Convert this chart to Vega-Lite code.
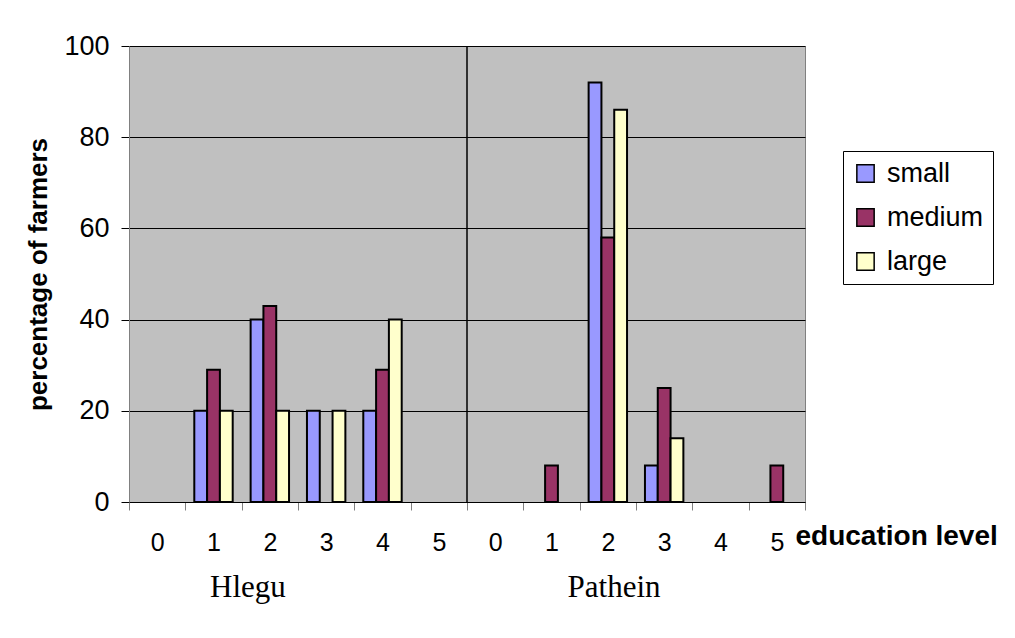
{
  "$schema": "https://vega.github.io/schema/vega-lite/v6.json",
  "width": 676,
  "height": 456,
  "autosize": "none",
  "padding": {"left": 129, "top": 46, "right": 210, "bottom": 136},
  "background": "white",
  "config": {
    "view": {"fill": "#C0C0C0", "stroke": "#808080", "strokeWidth": 1},
    "font": "Liberation Sans"
  },
  "datasets": {
    "bars": [
      {"category": "Hlegu 0", "site": "Hlegu", "level": 0, "size": "small", "percent": 0},
      {"category": "Hlegu 0", "site": "Hlegu", "level": 0, "size": "medium", "percent": 0},
      {"category": "Hlegu 0", "site": "Hlegu", "level": 0, "size": "large", "percent": 0},
      {"category": "Hlegu 1", "site": "Hlegu", "level": 1, "size": "small", "percent": 20},
      {"category": "Hlegu 1", "site": "Hlegu", "level": 1, "size": "medium", "percent": 29},
      {"category": "Hlegu 1", "site": "Hlegu", "level": 1, "size": "large", "percent": 20},
      {"category": "Hlegu 2", "site": "Hlegu", "level": 2, "size": "small", "percent": 40},
      {"category": "Hlegu 2", "site": "Hlegu", "level": 2, "size": "medium", "percent": 43},
      {"category": "Hlegu 2", "site": "Hlegu", "level": 2, "size": "large", "percent": 20},
      {"category": "Hlegu 3", "site": "Hlegu", "level": 3, "size": "small", "percent": 20},
      {"category": "Hlegu 3", "site": "Hlegu", "level": 3, "size": "medium", "percent": 0},
      {"category": "Hlegu 3", "site": "Hlegu", "level": 3, "size": "large", "percent": 20},
      {"category": "Hlegu 4", "site": "Hlegu", "level": 4, "size": "small", "percent": 20},
      {"category": "Hlegu 4", "site": "Hlegu", "level": 4, "size": "medium", "percent": 29},
      {"category": "Hlegu 4", "site": "Hlegu", "level": 4, "size": "large", "percent": 40},
      {"category": "Hlegu 5", "site": "Hlegu", "level": 5, "size": "small", "percent": 0},
      {"category": "Hlegu 5", "site": "Hlegu", "level": 5, "size": "medium", "percent": 0},
      {"category": "Hlegu 5", "site": "Hlegu", "level": 5, "size": "large", "percent": 0},
      {"category": "Pathein 0", "site": "Pathein", "level": 0, "size": "small", "percent": 0},
      {"category": "Pathein 0", "site": "Pathein", "level": 0, "size": "medium", "percent": 0},
      {"category": "Pathein 0", "site": "Pathein", "level": 0, "size": "large", "percent": 0},
      {"category": "Pathein 1", "site": "Pathein", "level": 1, "size": "small", "percent": 0},
      {"category": "Pathein 1", "site": "Pathein", "level": 1, "size": "medium", "percent": 8},
      {"category": "Pathein 1", "site": "Pathein", "level": 1, "size": "large", "percent": 0},
      {"category": "Pathein 2", "site": "Pathein", "level": 2, "size": "small", "percent": 92},
      {"category": "Pathein 2", "site": "Pathein", "level": 2, "size": "medium", "percent": 58},
      {"category": "Pathein 2", "site": "Pathein", "level": 2, "size": "large", "percent": 86},
      {"category": "Pathein 3", "site": "Pathein", "level": 3, "size": "small", "percent": 8},
      {"category": "Pathein 3", "site": "Pathein", "level": 3, "size": "medium", "percent": 25},
      {"category": "Pathein 3", "site": "Pathein", "level": 3, "size": "large", "percent": 14},
      {"category": "Pathein 4", "site": "Pathein", "level": 4, "size": "small", "percent": 0},
      {"category": "Pathein 4", "site": "Pathein", "level": 4, "size": "medium", "percent": 0},
      {"category": "Pathein 4", "site": "Pathein", "level": 4, "size": "large", "percent": 0},
      {"category": "Pathein 5", "site": "Pathein", "level": 5, "size": "small", "percent": 0},
      {"category": "Pathein 5", "site": "Pathein", "level": 5, "size": "medium", "percent": 8},
      {"category": "Pathein 5", "site": "Pathein", "level": 5, "size": "large", "percent": 0}
    ],
    "sites": [
      {"site": "Hlegu", "category": "Hlegu 2"},
      {"site": "Pathein", "category": "Pathein 2"}
    ],
    "divider": [
      {"category": "Pathein 0"}
    ]
  },
  "layer": [
    {
      "data": {"name": "bars"},
      "transform": [{"filter": "datum.percent > 0"}],
      "mark": {"type": "bar", "stroke": "black", "strokeWidth": 2},
      "encoding": {
        "x": {
          "field": "category",
          "type": "nominal",
          "sort": null,
          "scale": {
            "domain": ["Hlegu 0", "Hlegu 1", "Hlegu 2", "Hlegu 3", "Hlegu 4", "Hlegu 5", "Pathein 0", "Pathein 1", "Pathein 2", "Pathein 3", "Pathein 4", "Pathein 5"],
            "paddingInner": 0,
            "paddingOuter": 0
          },
          "axis": {
            "labelExpr": "split(datum.label, ' ')[1]",
            "labelAngle": 0,
            "labelFontSize": 25,
            "labelColor": "black",
            "labelPadding": 20,
            "tickBand": "extent",
            "tickSize": 8,
            "tickColor": "#808080",
            "domainColor": "black",
            "grid": false,
            "title": "education level",
            "titleFontSize": 28,
            "titleFontWeight": "bold",
            "titleColor": "black",
            "titleX": 666,
            "titleY": 42,
            "titleAlign": "left",
            "titleBaseline": "alphabetic"
          }
        },
        "xOffset": {
          "field": "size",
          "type": "nominal",
          "scale": {"domain": ["small", "medium", "large"], "paddingInner": 0, "paddingOuter": 0.7}
        },
        "y": {
          "field": "percent",
          "type": "quantitative",
          "scale": {"domain": [0, 100]},
          "axis": {
            "values": [0, 20, 40, 60, 80, 100],
            "gridColor": "black",
            "gridOpacity": 1,
            "gridWidth": 1,
            "tickColor": "black",
            "tickSize": 8,
            "domainColor": "#808080",
            "labelFontSize": 27,
            "labelPadding": 12,
            "labelColor": "black",
            "title": "percentage of farmers",
            "titleFontSize": 26,
            "titleFontWeight": "bold",
            "titleColor": "black",
            "titlePadding": 12
          }
        },
        "color": {
          "field": "size",
          "type": "nominal",
          "scale": {"domain": ["small", "medium", "large"], "range": ["#9999FF", "#993366", "#FFFFCC"]},
          "legend": {
            "orient": "none",
            "legendX": 714,
            "legendY": 105,
            "title": null,
            "symbolType": "square",
            "symbolSize": 300,
            "symbolStrokeColor": "black",
            "symbolStrokeWidth": 1.5,
            "symbolOpacity": 1,
            "labelFontSize": 27,
            "labelColor": "black",
            "labelOffset": 8,
            "rowPadding": 16,
            "padding": 9,
            "strokeColor": "black",
            "fillColor": "white"
          }
        }
      }
    },
    {
      "data": {"name": "divider"},
      "mark": {"type": "rule", "color": "black", "strokeWidth": 1.5},
      "encoding": {
        "x": {"field": "category", "type": "nominal", "bandPosition": 0}
      }
    },
    {
      "data": {"name": "sites"},
      "transform": [{"filter": "datum.site === 'Hlegu'"}],
      "mark": {"type": "text", "font": "Liberation Serif", "fontSize": 31, "color": "black", "baseline": "alphabetic", "align": "center"},
      "encoding": {
        "x": {"field": "category", "type": "nominal", "bandPosition": 0.11},
        "y": {"datum": -20.8},
        "text": {"field": "site"}
      }
    },
    {
      "data": {"name": "sites"},
      "transform": [{"filter": "datum.site === 'Pathein'"}],
      "mark": {"type": "text", "font": "Liberation Serif", "fontSize": 31, "color": "black", "baseline": "alphabetic", "align": "center"},
      "encoding": {
        "x": {"field": "category", "type": "nominal", "bandPosition": 0.61},
        "y": {"datum": -20.8},
        "text": {"field": "site"}
      }
    }
  ]
}
